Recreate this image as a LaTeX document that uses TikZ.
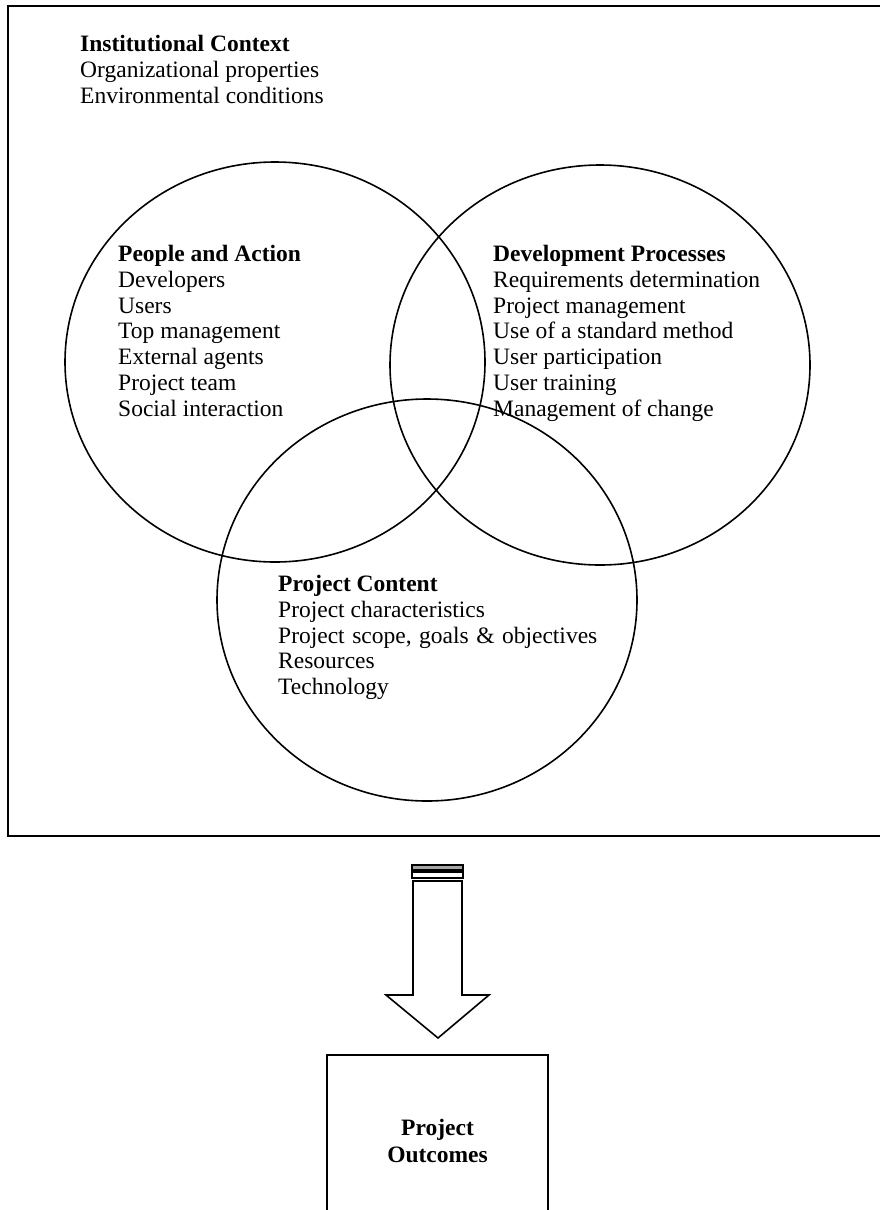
\documentclass[tikz,border=0pt]{standalone}
\usepackage{fontspec}
\setmainfont{Liberation Serif}
\begin{document}
\begin{tikzpicture}[x=1pt,y=-1pt,
  txt/.style={anchor=north west,inner sep=0pt,align=left,font=\fontsize{23.5}{25.8}\selectfont},
  ring/.style={draw,line width=1.6pt},
  boxline/.style={draw,line width=1.8pt}]
\useasboundingbox (0,0) rectangle (880,1210);
% frame
\draw[boxline] (8,6) rectangle (890,836);
% circles
\draw[ring] (275,362) ellipse [x radius=210, y radius=200];
\draw[ring] (600,365) ellipse [x radius=210, y radius=200];
\draw[ring] (427,600) ellipse [x radius=210, y radius=201];
% texts
\node[txt] (inst) at (80,35) {\textbf{Institutional Context}\\Organizational properties\\Environmental conditions};
\node[txt] (people) at (118,245) {\textbf{People and Action}\\Developers\\Users\\Top management\\External agents\\Project team\\Social interaction};
\node[txt] (dev) at (493,245) {\textbf{Development Processes}\\Requirements determination\\Project management\\Use of a standard method\\User participation\\User training\\Management of change};
\node[txt] (cont) at (278,575) {\textbf{Project Content}\\Project characteristics\\{\spaceskip=7.5pt Project scope, goals \& objectives}\\Resources\\Technology};
% outcomes box
\draw[boxline] (327,1055) rectangle (548,1220);
\node[align=center,inner sep=0pt,font=\fontsize{23.5}{27}\selectfont\bfseries] (out) at (437.5,1141) {Project\\Outcomes};
% block arrow
\draw[line width=1.3pt,fill=gray!70] (412,865) rectangle (463,870);
\draw[line width=1.3pt,fill=white] (412,872) rectangle (463,878);
\draw[line width=1.6pt,line join=miter] (413,881) -- (413,995) -- (386,995) -- (438,1038) -- (489,995) -- (462,995) -- (462,881) -- cycle;
\end{tikzpicture}
\end{document}
